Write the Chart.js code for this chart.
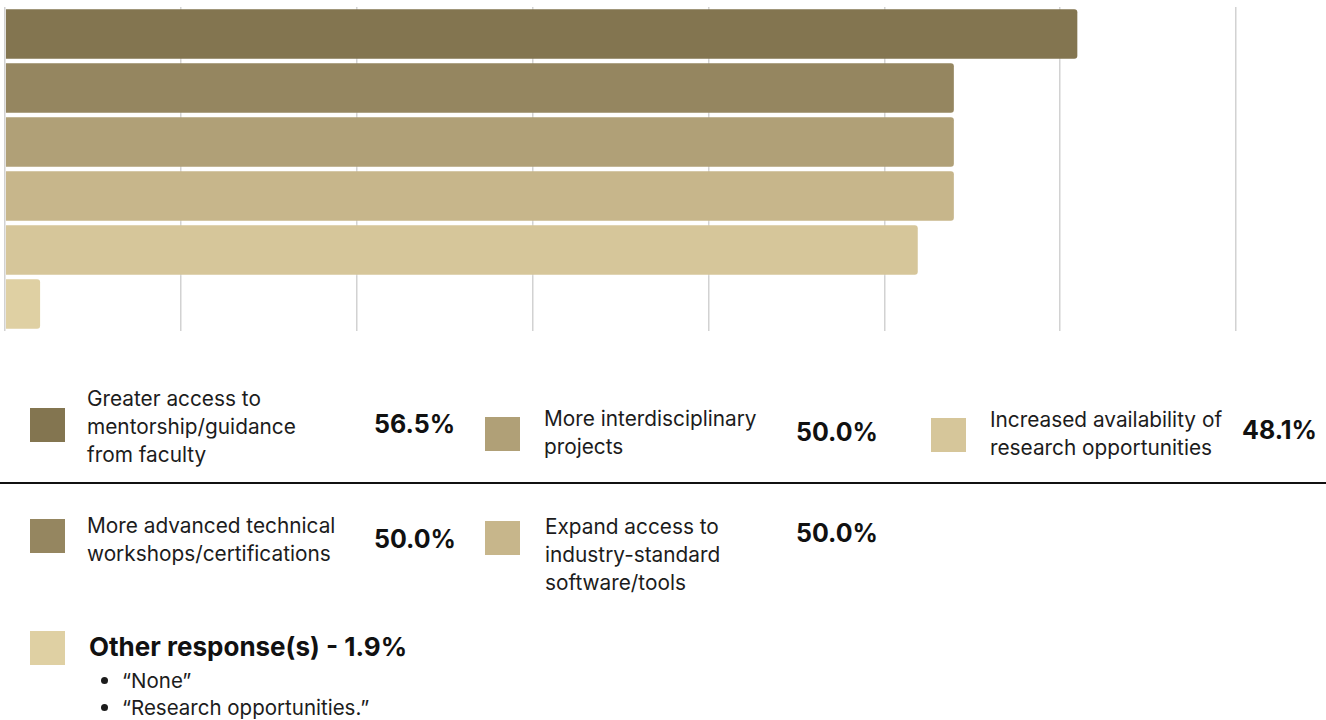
<!DOCTYPE html>
<html lang="en">
<head>
    <meta charset="UTF-8">
    <title>Suggested Improvements</title>
    <script src="https://cdn.jsdelivr.net/npm/chart.js"></script>
    <style>
        html, body { margin: 0; padding: 0; background: #fff; }
        body { width: 1326px; height: 720px; position: relative; overflow: hidden;
               font-family: "Inter", "Noto Sans", sans-serif; color: #1c1c1c; }
        #chartBox { position: absolute; left: 0; top: 0; width: 1326px; height: 340px; }
        .swatch { position: absolute; width: 35px; height: 34px; }
        .lbl { position: absolute; font-size: 20.8px; line-height: 28px; white-space: nowrap; }
        .val { position: absolute; font-size: 25px; font-weight: 700; color: #111; line-height: 30px; }
        .rule { position: absolute; left: 0; top: 482px; width: 1326px; height: 2px; background: #111; }
        .other { position: absolute; left: 89px; top: 631px; font-size: 26px; font-weight: 700; color: #111; line-height: 32px; white-space: nowrap; }
        .notes { position: absolute; left: 100px; top: 667px; margin: 0; padding-left: 22px;
                 font-size: 20.5px; line-height: 27px; white-space: nowrap; }
        .notes li::marker { font-size: 22px; }
    </style>
</head>
<body>
    <div id="chartBox"><canvas id="resultChart" width="1326" height="340"></canvas></div>

    <!-- legend, first row -->
    <div class="swatch" id="sw0" style="left:30px; top:408px;"></div>
    <div class="lbl" style="left:87px; top:385px;">Greater access to<br>mentorship/guidance<br>from faculty</div>
    <div class="val" id="v0" style="left:374px; top:409px;"></div>

    <div class="swatch" id="sw2" style="left:485px; top:417px;"></div>
    <div class="lbl" style="left:544px; top:405px;">More interdisciplinary<br>projects</div>
    <div class="val" id="v2" style="left:796px; top:417px;"></div>

    <div class="swatch" id="sw4" style="left:931px; top:418px;"></div>
    <div class="lbl" style="left:990px; top:406px;">Increased availability of<br>research opportunities</div>
    <div class="val" id="v4" style="left:1242px; top:415px;"></div>

    <div class="rule"></div>

    <!-- legend, second row -->
    <div class="swatch" id="sw1" style="left:30px; top:519px;"></div>
    <div class="lbl" style="left:87px; top:512px;">More advanced technical<br>workshops/certifications</div>
    <div class="val" id="v1" style="left:374px; top:524px;"></div>

    <div class="swatch" id="sw3" style="left:485px; top:521px;"></div>
    <div class="lbl" style="left:545px; top:513px;">Expand access to<br>industry-standard<br>software/tools</div>
    <div class="val" id="v3" style="left:796px; top:518px;"></div>

    <!-- other responses -->
    <div class="swatch" id="sw5" style="left:30px; top:631px;"></div>
    <div class="other" id="otherTitle"></div>
    <ul class="notes">
        <li>“None”</li>
        <li>“Research opportunities.”</li>
    </ul>

    <script>
        // survey answers, top bar first
        const labels = [
            'Greater access to mentorship/guidance from faculty',
            'More advanced technical workshops/certifications',
            'More interdisciplinary projects',
            'Expand access to industry-standard software/tools',
            'Increased availability of research opportunities',
            'Other response(s)'
        ];
        const values = [56.5, 50.0, 50.0, 50.0, 48.1, 1.9];
        const barColors = ['#837550', '#958660', '#b0a077', '#c7b68b', '#d6c69a', '#dfd0a3'];

        // value axis: 0 .. axisMax split into gridSteps equal parts
        const axisMax = 64.8;
        const gridSteps = 7;

        // legend swatches and percentages
        values.forEach((v, i) => {
            document.getElementById('sw' + i).style.background = barColors[i];
            const el = document.getElementById('v' + i);
            if (el) el.textContent = v.toFixed(1) + '%';
        });
        document.getElementById('otherTitle').textContent = labels[5] + ' - ' + values[5].toFixed(1) + '%';

        const ctx = document.getElementById('resultChart').getContext('2d');
        new Chart(ctx, {
            type: 'bar',
            data: {
                labels: labels,
                datasets: [{
                    data: values,
                    backgroundColor: barColors,
                    borderColor: 'rgba(255,255,255,0.25)',
                    borderWidth: 1,
                    borderRadius: 4,
                    borderSkipped: 'start',
                    categoryPercentage: 1.0,
                    barPercentage: 0.955
                }]
            },
            options: {
                indexAxis: 'y',
                responsive: false,
                animation: false,
                layout: { padding: { left: 5, right: 90, top: 7, bottom: 9 } },
                plugins: { legend: { display: false }, tooltip: { enabled: false } },
                scales: {
                    x: {
                        min: 0,
                        max: axisMax,
                        afterBuildTicks: scale => {
                            const t = [];
                            for (let i = 0; i <= gridSteps; i++) t.push({ value: axisMax * i / gridSteps });
                            scale.ticks = t;
                        },
                        ticks: { display: false },
                        border: { display: false },
                        grid: { color: '#d2d2d2', lineWidth: 1.5, drawTicks: false }
                    },
                    y: { display: false }
                }
            }
        });
    </script>
</body>
</html>
